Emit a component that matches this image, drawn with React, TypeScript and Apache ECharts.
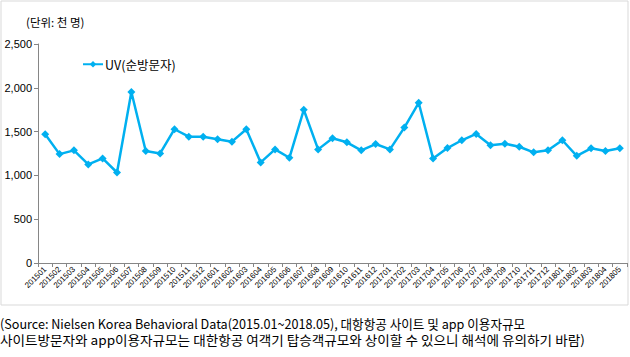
import React, { useEffect, useRef } from "react";
import * as echarts from "echarts";

const categories: string[] = [
  "201501", "201502", "201503", "201504", "201505", "201506", "201507", "201508", "201509", "201510",
  "201511", "201512", "201601", "201602", "201603", "201604", "201605", "201606", "201607", "201608",
  "201609", "201610", "201611", "201612", "201701", "201702", "201703", "201704", "201705", "201706",
  "201707", "201708", "201709", "201710", "201711", "201712", "201801", "201802", "201803", "201804",
  "201805",
];

const uvValues: number[] = [
  1469, 1243, 1286, 1125, 1194, 1033, 1952, 1278, 1251, 1527,
  1442, 1442, 1412, 1385, 1527, 1148, 1297, 1201, 1749, 1297,
  1424, 1378, 1286, 1358, 1297, 1546, 1829, 1194, 1312, 1401,
  1473, 1345, 1362, 1327, 1263, 1286, 1401, 1224, 1309, 1278,
  1309,
];

const seriesName = "UV(순방문자)";
const unitLabel = "(단위: 천 명)";
const noteLine1 = "(Source: Nielsen Korea Behavioral Data(2015.01~2018.05), 대항항공 사이트 및 app 이용자규모";
const noteLine2 = "사이트방문자와 app이용자규모는 대한항공 여객기 탑승객규모와 상이할 수 있으니 해석에 유의하기 바람)";

export default function App() {
  const ref = useRef<HTMLDivElement>(null);
  useEffect(() => {
    if (!ref.current) return;
    const chart = echarts.init(ref.current, undefined, { renderer: "svg" });
    const kr = "'Noto Sans CJK KR', 'Noto Sans', sans-serif";
    chart.setOption({
      animation: false,
      backgroundColor: "#ffffff",
      grid: { left: 38, right: 3, top: 44, bottom: 94, containLabel: false },
      legend: {
        left: 77,
        top: 53,
        itemWidth: 20,
        itemHeight: 8,
        itemGap: 0,
        textStyle: { fontFamily: kr, fontSize: 12.5, color: "#000", padding: [0, 0, 0, -3] },
        data: [{ name: seriesName }],
      },
      xAxis: {
        type: "category",
        data: categories,
        boundaryGap: true,
        axisLine: { lineStyle: { color: "#868686", width: 1 } },
        axisTick: { show: true, length: 4, lineStyle: { color: "#868686" } },
        axisLabel: {
          interval: 0,
          rotate: 45,
          fontSize: 8,
          fontFamily: "'Liberation Sans', Arial, sans-serif",
          color: "#000",
          margin: 5,
        },
        splitLine: { show: false },
      },
      yAxis: {
        type: "value",
        min: 0,
        max: 2500,
        interval: 500,
        axisLine: { show: true, lineStyle: { color: "#868686", width: 1 } },
        axisTick: { show: true, length: 4, lineStyle: { color: "#868686" } },
        axisLabel: {
          fontSize: 11,
          fontFamily: "'Liberation Sans', Arial, sans-serif",
          color: "#000",
          margin: 6,
          formatter: (v: number) => v.toLocaleString("en-US"),
        },
        splitLine: { show: false },
      },
      series: [
        {
          name: seriesName,
          type: "line",
          data: uvValues,
          symbol: "diamond",
          symbolSize: 8,
          showAllSymbol: true,
          lineStyle: { color: "#00B0F0", width: 2.5 },
          itemStyle: { color: "#00B0F0" },
        },
      ],
      graphic: [
        {
          type: "rect",
          shape: { x: 1, y: 1, width: 627, height: 304 },
          style: { fill: "none", stroke: "#d9d9d9", lineWidth: 1 },
          silent: true,
          z: -1,
        },
        {
          type: "text",
          x: 26,
          y: 22,
          style: { text: unitLabel, fontFamily: kr, fontSize: 11.5, fill: "#000", verticalAlign: "middle" },
        },
        {
          type: "text",
          x: 0,
          y: 323,
          scaleX: 0.97,
          style: { text: noteLine1, fontFamily: kr, fontSize: 13, fill: "#000", verticalAlign: "middle" },
        },
        {
          type: "text",
          x: 0,
          y: 340,
          scaleX: 1.046,
          style: { text: noteLine2, fontFamily: kr, fontSize: 13, fill: "#000", verticalAlign: "middle" },
        },
      ],
    });
    return () => chart.dispose();
  }, []);
  return (
    <div
      ref={ref}
      style={{ position: "absolute", left: 0, top: 0, width: 630, height: 357 }}
    />
  );
}
